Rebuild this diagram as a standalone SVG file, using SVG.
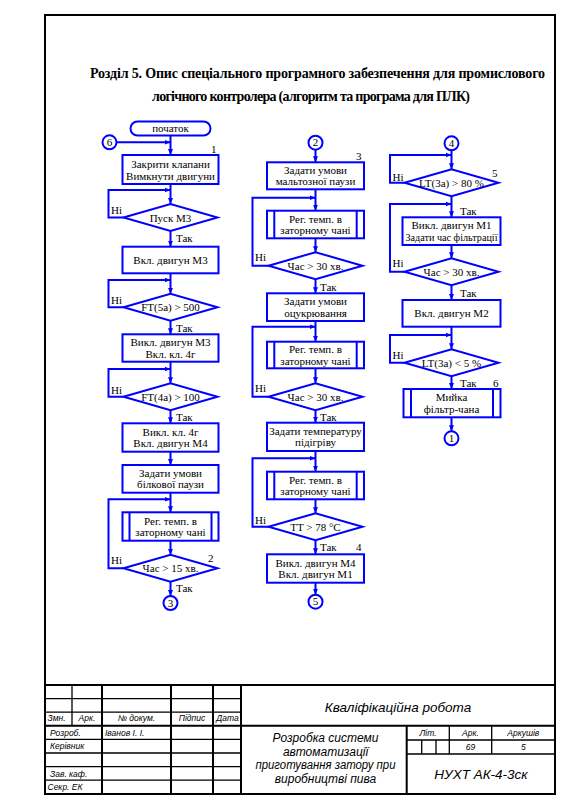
<svg xmlns="http://www.w3.org/2000/svg" width="568" height="811" viewBox="0 0 568 811">
<style>
.ln{fill:none;stroke:#0000ff;stroke-width:2;marker-end:url(#ah)}
.sh{fill:#fff;stroke:#0000ff;stroke-width:2}
.in{fill:none;stroke:#0000ff;stroke-width:2}
.t{font-family:"Liberation Serif","Times New Roman",serif;font-size:11px;fill:#000;text-anchor:middle}
.l{font-family:"Liberation Serif","Times New Roman",serif;font-size:11px;fill:#000}
.h{font-family:"Liberation Serif","Times New Roman",serif;font-size:14px;font-weight:bold;fill:#000}
.tb{stroke:#000;stroke-width:2;fill:none}
.tt{stroke:#000;stroke-width:1.3;fill:none}
.s{font-family:"Liberation Sans",Arial,sans-serif;font-style:italic;font-size:8.5px;fill:#000}
.sc{font-family:"Liberation Sans",Arial,sans-serif;font-style:italic;font-size:8.5px;fill:#000;text-anchor:middle}
.b{font-family:"Liberation Sans",Arial,sans-serif;font-style:italic;font-size:12px;fill:#000;text-anchor:middle}
</style>
<defs>
<marker id="ah" viewBox="0 0 6 6" refX="6" refY="3" markerWidth="6" markerHeight="6" markerUnits="userSpaceOnUse" orient="auto"><path d="M0,0.5 L6,3 L0,5.5z" fill="#0000ff"/></marker>
</defs>
<rect width="568" height="811" fill="#fff"/>
<g id="frame">
<rect class="tb" x="45" y="15" width="510" height="779"/>
</g>
<g id="heading">
<text class="h" x="90" y="78" textLength="455" lengthAdjust="spacing">Розділ 5. Опис спеціального програмного забезпечення для промислового</text>
<text class="h" x="152" y="101" textLength="318" lengthAdjust="spacing">логічного контролера (алгоритм та програма для ПЛК)</text>
</g>
<g id="connectors">
<path class="ln" d="M170.5,135.5 V155"/>
<path class="ln" d="M116.5,142.3 H170.5"/>
<path class="ln" d="M170.5,184 V204"/>
<path class="ln" d="M123.5,217.5 H108.5 V190 H170.5"/>
<path class="ln" d="M170.5,231 V246.7"/>
<path class="ln" d="M170.5,273.3 V293.8"/>
<path class="ln" d="M123.5,307.3 H108.5 V280 H170.5"/>
<path class="ln" d="M170.5,320.8 V334.3"/>
<path class="ln" d="M170.5,361.7 V383.2"/>
<path class="ln" d="M123.5,396.7 H108.5 V369 H170.5"/>
<path class="ln" d="M170.5,410.2 V423.3"/>
<path class="ln" d="M170.5,451.7 V465"/>
<path class="ln" d="M170.5,492.7 V512.3"/>
<path class="ln" d="M123.5,568.3 H108.5 V499.3 H170.5"/>
<path class="ln" d="M170.5,540.7 V554.8"/>
<path class="ln" d="M170.5,581.8 V596"/>
<path class="ln" d="M315.5,149.7 V162.3"/>
<path class="ln" d="M315.5,189.3 V210.7"/>
<path class="ln" d="M268.5,265.7 H252.5 V197.7 H315.5"/>
<path class="ln" d="M315.5,238.3 V252.2"/>
<path class="ln" d="M315.5,279.2 V293.3"/>
<path class="ln" d="M315.5,321 V341.7"/>
<path class="ln" d="M268.5,396.7 H252.5 V326.7 H315.5"/>
<path class="ln" d="M315.5,368.3 V383.2"/>
<path class="ln" d="M315.5,410.2 V422.7"/>
<path class="ln" d="M315.5,451 V471.7"/>
<path class="ln" d="M268.5,526.7 H252.5 V458.3 H315.5"/>
<path class="ln" d="M315.5,499.3 V513.2"/>
<path class="ln" d="M315.5,540.2 V554.3"/>
<path class="ln" d="M315.5,582.7 V594.7"/>
<path class="ln" d="M451.5,150.3 V169.2"/>
<path class="ln" d="M404.5,182.7 H390 V155 H451.5"/>
<path class="ln" d="M451.5,196.2 V217.3"/>
<path class="ln" d="M404.5,271.7 H390 V204 H451.5"/>
<path class="ln" d="M451.5,245 V258.2"/>
<path class="ln" d="M451.5,285.2 V300"/>
<path class="ln" d="M451.5,326.7 V349.2"/>
<path class="ln" d="M404.5,362.7 H390 V335 H451.5"/>
<path class="ln" d="M451.5,376.2 V389"/>
<path class="ln" d="M451.5,417.3 V431.3"/>
</g>
<g id="labels">
<text class="l" x="111" y="213.5">Ні</text>
<text class="l" x="176" y="242">Так</text>
<text class="l" x="111" y="303.5">Ні</text>
<text class="l" x="176" y="331.5">Так</text>
<text class="l" x="111" y="393.5">Ні</text>
<text class="l" x="176" y="420.5">Так</text>
<text class="l" x="111" y="563.7">Ні</text>
<text class="l" x="176" y="592">Так</text>
<text class="l" x="211" y="153">1</text>
<text class="l" x="208" y="562">2</text>
<text class="l" x="255" y="260.5">Ні</text>
<text class="l" x="320" y="290.5">Так</text>
<text class="l" x="255" y="392">Ні</text>
<text class="l" x="320" y="420.5">Так</text>
<text class="l" x="255" y="523.5">Ні</text>
<text class="l" x="320" y="550.5">Так</text>
<text class="l" x="356" y="159.7">3</text>
<text class="l" x="356" y="550.5">4</text>
<text class="l" x="392.5" y="180.5">Ні</text>
<text class="l" x="460" y="215">Так</text>
<text class="l" x="392.5" y="266.5">Ні</text>
<text class="l" x="460" y="297">Так</text>
<text class="l" x="392.5" y="358.5">Ні</text>
<text class="l" x="460" y="386.5">Так</text>
<text class="l" x="492" y="177">5</text>
<text class="l" x="493" y="386.5">6</text>
</g>
<g id="start"><rect class="sh" x="130.5" y="121.5" width="80" height="14" rx="7"/><text class="t" x="170.5" y="132.3">початок</text></g>
<g id="c6"><circle class="sh" cx="109.5" cy="142.3" r="7"/><text class="t" x="109.5" y="146">6</text></g>
<g id="n1"><rect class="sh" x="122.5" y="155" width="96" height="29"/><text class="t" x="170.5" y="168">Закрити клапани</text><text class="t" x="170.5" y="179.5">Вимкнути двигуни</text></g>
<g id="d1"><polygon class="sh" points="123.5,217.5 170.5,204 217.5,217.5 170.5,231"/><text class="t" x="170.5" y="221.5">Пуск М3</text></g>
<g id="n2"><rect class="sh" x="122.5" y="246.7" width="96" height="26.6"/><text class="t" x="170.5" y="264">Вкл. двигун М3</text></g>
<g id="d2"><polygon class="sh" points="123.5,307.3 170.5,293.8 217.5,307.3 170.5,320.8"/><text class="t" x="170.5" y="311">FT(5a) &gt; 500</text></g>
<g id="n3"><rect class="sh" x="122.5" y="334.3" width="96" height="27.4"/><text class="t" x="170.5" y="346">Викл. двигун М3</text><text class="t" x="170.5" y="357.5">Вкл. кл. 4г</text></g>
<g id="d3"><polygon class="sh" points="123.5,396.7 170.5,383.2 217.5,396.7 170.5,410.2"/><text class="t" x="170.5" y="400.5">FT(4a) &gt; 100</text></g>
<g id="n4"><rect class="sh" x="122.5" y="423.3" width="96" height="28.4"/><text class="t" x="170.5" y="435.5">Викл. кл. 4г</text><text class="t" x="170.5" y="447">Вкл. двигун М4</text></g>
<g id="n5"><rect class="sh" x="122.5" y="465" width="96" height="27.7"/><text class="t" x="170.5" y="476.8">Задати умови</text><text class="t" x="170.5" y="488.3">білкової паузи</text></g>
<g id="s1"><rect class="sh" x="122.5" y="512.3" width="96" height="28.4"/><path class="in" d="M129.5,512.3 V540.7 M211.5,512.3 V540.7"/><text class="t" x="170.5" y="524.5">Рег. темп. в</text><text class="t" x="170.5" y="536">заторному чані</text></g>
<g id="d4"><polygon class="sh" points="123.5,568.3 170.5,554.8 217.5,568.3 170.5,581.8"/><text class="t" x="170.5" y="572">Час &gt; 15 хв.</text></g>
<g id="c3"><circle class="sh" cx="170.5" cy="603" r="7"/><text class="t" x="170.5" y="606.7">3</text></g>
<g id="c2"><circle class="sh" cx="315.5" cy="142.7" r="7"/><text class="t" x="315.5" y="146.4">2</text></g>
<g id="n6"><rect class="sh" x="267" y="162.3" width="97" height="27"/><text class="t" x="315.5" y="173.8">Задати умови</text><text class="t" x="315.5" y="185.3">мальтозної паузи</text></g>
<g id="s2"><rect class="sh" x="267" y="210.7" width="97" height="27.6"/><path class="in" d="M274.3,210.7 V238.3 M356.7,210.7 V238.3"/><text class="t" x="315.5" y="222.5">Рег. темп. в</text><text class="t" x="315.5" y="234">заторному чані</text></g>
<g id="d5"><polygon class="sh" points="268.5,265.7 315.5,252.2 362.5,265.7 315.5,279.2"/><text class="t" x="315.5" y="269.5">Час &gt; 30 хв.</text></g>
<g id="n7"><rect class="sh" x="267" y="293.3" width="97" height="27.7"/><text class="t" x="315.5" y="305.2">Задати умови</text><text class="t" x="315.5" y="316.7">оцукрювання</text></g>
<g id="s3"><rect class="sh" x="267" y="341.7" width="97" height="26.6"/><path class="in" d="M274.3,341.7 V368.3 M356.7,341.7 V368.3"/><text class="t" x="315.5" y="353">Рег. темп. в</text><text class="t" x="315.5" y="364.5">заторному чані</text></g>
<g id="d6"><polygon class="sh" points="268.5,396.7 315.5,383.2 362.5,396.7 315.5,410.2"/><text class="t" x="315.5" y="400.5">Час &gt; 30 хв.</text></g>
<g id="n8"><rect class="sh" x="267" y="422.7" width="97" height="28.3"/><text class="t" x="315.5" y="434.8">Задати температуру</text><text class="t" x="315.5" y="446.3">підігріву</text></g>
<g id="s4"><rect class="sh" x="267" y="471.7" width="97" height="27.6"/><path class="in" d="M274.3,471.7 V499.3 M356.7,471.7 V499.3"/><text class="t" x="315.5" y="483.5">Рег. темп. в</text><text class="t" x="315.5" y="495">заторному чані</text></g>
<g id="d7"><polygon class="sh" points="268.5,526.7 315.5,513.2 362.5,526.7 315.5,540.2"/><text class="t" x="315.5" y="530.5">TT &gt; 78 °C</text></g>
<g id="n9"><rect class="sh" x="267" y="554.3" width="97" height="28.4"/><text class="t" x="315.5" y="566.5">Викл. двигун М4</text><text class="t" x="315.5" y="578">Вкл. двигун М1</text></g>
<g id="c5"><circle class="sh" cx="315.5" cy="601.7" r="7"/><text class="t" x="315.5" y="605.4">5</text></g>
<g id="c4"><circle class="sh" cx="451.5" cy="143.3" r="7"/><text class="t" x="451.5" y="147">4</text></g>
<g id="d8"><polygon class="sh" points="404.5,182.7 451.5,169.2 498.5,182.7 451.5,196.2"/><text class="t" x="451.5" y="186.5">LT(3a) &gt; 80 %</text></g>
<g id="n10"><rect class="sh" x="402.5" y="217.3" width="98" height="27.7"/><text class="t" x="451.5" y="229.2">Викл. двигун М1</text><text class="t" x="451.5" y="240.7" textLength="92" lengthAdjust="spacingAndGlyphs">Задати час фільтрації</text></g>
<g id="d9"><polygon class="sh" points="404.5,271.7 451.5,258.2 498.5,271.7 451.5,285.2"/><text class="t" x="451.5" y="275.5">Час &gt; 30 хв.</text></g>
<g id="n11"><rect class="sh" x="402.5" y="300" width="98" height="26.7"/><text class="t" x="451.5" y="317">Вкл. двигун М2</text></g>
<g id="d10"><polygon class="sh" points="404.5,362.7 451.5,349.2 498.5,362.7 451.5,376.2"/><text class="t" x="451.5" y="366.5">LT(3a) &lt; 5 %</text></g>
<g id="s5"><rect class="sh" x="403.5" y="389" width="97" height="28.3"/><path class="in" d="M411,389 V417.3 M493,389 V417.3"/><text class="t" x="451.5" y="401.2">Мийка</text><text class="t" x="451.5" y="412.7">фільтр-чана</text></g>
<g id="c1"><circle class="sh" cx="451.5" cy="438.3" r="7"/><text class="t" x="451.5" y="442">1</text></g>
<g id="titleblock">
<path class="tb" d="M45,685 H555 M241,685 V794 M241,725.8 H555 M406.7,725.8 V794 M45,725.8 H241 M102,685 V794 M171,685 V794 M213,685 V794"/>
<path class="tt" d="M72,685 V725.8 M45,698.6 H241 M45,712.2 H241 M45,739.4 H241 M45,753 H241 M45,766.6 H241 M45,780.2 H241 M406.7,740 H555 M406.7,754 H555 M449.3,725.8 V754 M491.7,725.8 V754 M421.7,740 V754 M436,740 V754"/>
<text class="s" x="47.5" y="721">Змн.</text>
<text class="sc" x="87" y="721">Арк.</text>
<text class="sc" x="136.5" y="721">№ докум.</text>
<text class="sc" x="192" y="721">Підпис</text>
<text class="sc" x="227.5" y="721">Дата</text>
<text class="s" x="50" y="735.6">Розроб.</text>
<text class="s" x="105" y="735.6">Іванов І. І.</text>
<text class="s" x="50" y="749.2">Керівник</text>
<text class="s" x="50" y="776.5">Зав. каф.</text>
<text class="s" x="47.5" y="790">Секр. ЕК</text>
<text class="b" x="398" y="711.5" style="font-size:13.5px">Кваліфікаційна робота</text>
<text class="b" x="325.5" y="742">Розробка системи</text>
<text class="b" x="325.5" y="755.5">автоматизації</text>
<text class="b" x="325.5" y="769" textLength="140" lengthAdjust="spacingAndGlyphs">приготування затору при</text>
<text class="b" x="325.5" y="782.5">виробництві пива</text>
<text class="sc" x="428" y="736">Літ.</text>
<text class="sc" x="470.5" y="736">Арк.</text>
<text class="sc" x="523.3" y="736">Аркушів</text>
<text class="sc" x="470.5" y="750">69</text>
<text class="sc" x="523.3" y="750">5</text>
<text class="b" x="481" y="778.5" style="font-size:13.5px">НУХТ АК-4-3ск</text>
</g>
</svg>
